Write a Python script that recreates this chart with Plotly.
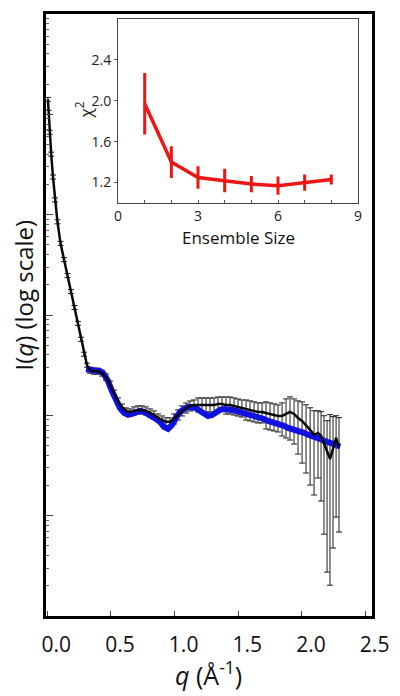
import plotly.graph_objects as go

# ---------------- data ----------------
# Experimental SAXS profile (black), q in 1/Angstrom, intensity as log10(I)
q_exp = [0.005, 0.010, 0.019, 0.031, 0.045, 0.060, 0.080, 0.104, 0.131, 0.159,
         0.186, 0.214, 0.241, 0.265, 0.288, 0.312, 0.335, 0.367, 0.398, 0.430,
         0.461, 0.493, 0.524, 0.555, 0.587, 0.618, 0.650, 0.681, 0.713, 0.744,
         0.775, 0.807, 0.838, 0.870, 0.901, 0.932, 0.964, 0.995, 1.027, 1.058,
         1.090, 1.121, 1.152, 1.184, 1.215, 1.247, 1.278, 1.310, 1.341, 1.372,
         1.404, 1.435, 1.467, 1.498, 1.529, 1.561, 1.592, 1.624, 1.655, 1.687,
         1.718, 1.749, 1.781, 1.812, 1.844, 1.875, 1.906, 1.938, 1.969, 2.001,
         2.032, 2.064, 2.095, 2.126, 2.150, 2.173, 2.197, 2.220, 2.244, 2.268,
         2.291]
logI_exp = [5.149, 5.020, 4.821, 4.603, 4.375, 4.147, 3.929, 3.714, 3.552, 3.393,
            3.234, 3.075, 2.917, 2.758, 2.609, 2.500, 2.450, 2.440, 2.440, 2.421,
            2.381, 2.312, 2.222, 2.143, 2.083, 2.044, 2.034, 2.044, 2.054, 2.054,
            2.044, 2.024, 2.004, 1.974, 1.954, 1.935, 1.935, 1.964, 2.004, 2.044,
            2.073, 2.093, 2.103, 2.103, 2.103, 2.103, 2.103, 2.103, 2.113, 2.113,
            2.103, 2.103, 2.093, 2.083, 2.073, 2.063, 2.054, 2.044, 2.034, 2.034,
            2.024, 2.014, 2.004, 1.994, 1.994, 2.014, 2.034, 2.014, 1.974, 1.944,
            1.905, 1.855, 1.806, 1.825, 1.796, 1.716, 1.627, 1.567, 1.667, 1.776,
            1.677]
# error bar extents in decades (upper / lower)
err_up_dec = [0.02] * 16 + [0.03] * 11 + [0.04] * 10 + [0.05] * 6 + [0.07] * 7 + \
             [0.08] * 5 + [0.09] * 5 + [0.11] * 4 + \
             [0.13, 0.15, 0.15, 0.15, 0.17, 0.19, 0.20, 0.22, 0.24, 0.22, 0.24,
              0.28, 0.32, 0.44, 0.32, 0.22, 0.30]
err_dn_dec = [0.02] * 16 + [0.03] * 11 + [0.04] * 10 + [0.05] * 6 + [0.07] * 7 + \
             [0.09] * 5 + [0.11] * 5 + [0.16] * 4 + \
             [0.20, 0.24, 0.28, 0.30, 0.36, 0.42, 0.48, 0.55, 0.60, 0.45, 0.65,
              0.90, 1.19, 1.26, 0.99, 0.79, 0.84]

# Ensemble fit (blue)
q_fit = [0.304, 0.335, 0.375, 0.414, 0.445, 0.477, 0.508, 0.540, 0.571, 0.603,
         0.634, 0.665, 0.697, 0.728, 0.760, 0.791, 0.822, 0.854, 0.885, 0.917,
         0.948, 0.980, 1.011, 1.042, 1.074, 1.105, 1.137, 1.168, 1.200, 1.231,
         1.262, 1.294, 1.325, 1.357, 1.388, 1.419, 1.451, 1.482, 1.514, 1.545,
         1.577, 1.608, 1.639, 1.671, 1.702, 1.734, 1.765, 1.797, 1.828, 1.859,
         1.891, 1.922, 1.954, 1.985, 2.017, 2.048, 2.079, 2.111, 2.142, 2.174,
         2.205, 2.236, 2.268, 2.299]
logI_fit = [2.460, 2.450, 2.440, 2.440, 2.411, 2.341, 2.242, 2.153, 2.073, 2.024,
            2.004, 2.014, 2.034, 2.044, 2.034, 2.014, 1.994, 1.964, 1.935, 1.885,
            1.865, 1.905, 1.974, 2.034, 2.063, 2.083, 2.083, 2.073, 2.044, 2.014,
            1.994, 2.004, 2.034, 2.054, 2.063, 2.063, 2.054, 2.044, 2.034, 2.024,
            2.014, 1.994, 1.984, 1.974, 1.964, 1.944, 1.935, 1.915, 1.905, 1.895,
            1.875, 1.865, 1.845, 1.835, 1.825, 1.806, 1.796, 1.776, 1.766, 1.746,
            1.736, 1.716, 1.706, 1.687]

# Inset: chi^2 vs ensemble size
ens_size = [1, 2, 3, 4, 5, 6, 7, 8]
chi2 = [1.97, 1.40, 1.25, 1.22, 1.185, 1.17, 1.20, 1.23]
chi2_err = [0.30, 0.155, 0.11, 0.115, 0.08, 0.09, 0.08, 0.05]

x_tickvals = [0.0, 0.5, 1.0, 1.5, 2.0, 2.5]
x_ticktext = ["0.0", "0.5", "1.0", "1.5", "2.0", "2.5"]
inset_x_tickvals = [0, 3, 6, 9]
inset_y_tickvals = [1.2, 1.6, 2.0, 2.4]
inset_y_ticktext = ["1.2", "1.6", "2.0", "2.4"]

# ---------------- build ----------------
I_exp = [10 ** v for v in logI_exp]
I_fit = [10 ** v for v in logI_fit]
err_plus = [I * (10 ** u - 1) for I, u in zip(I_exp, err_up_dec)]
err_minus = [I * (1 - 10 ** (-d)) for I, d in zip(I_exp, err_dn_dec)]

FONT = "Open Sans"
fig = go.Figure()

# error bars of experimental data
fig.add_trace(go.Scatter(
    x=q_exp, y=I_exp, mode="markers", marker=dict(size=1, color="#222"),
    error_y=dict(type="data", symmetric=False, array=err_plus, arrayminus=err_minus,
                 color="#1e1e1e", thickness=1, width=3),
    xaxis="x", yaxis="y", showlegend=False, hoverinfo="skip"))
# fit
fig.add_trace(go.Scatter(
    x=q_fit, y=I_fit, mode="lines", line=dict(color="#1212e0", width=6),
    xaxis="x", yaxis="y", showlegend=False))
# experimental line
fig.add_trace(go.Scatter(
    x=q_exp, y=I_exp, mode="lines", line=dict(color="#0a0a0a", width=2.5),
    xaxis="x", yaxis="y", showlegend=False))

# inset
fig.add_trace(go.Scatter(
    x=ens_size, y=chi2, mode="lines", line=dict(color="#ee1515", width=3.5),
    error_y=dict(type="data", array=chi2_err, color="#ee1515", thickness=3, width=0),
    xaxis="x2", yaxis="y2", showlegend=False))

# page body has an 8px default margin, margins compensate for it
fig.update_layout(
    width=400, height=696,
    margin=dict(l=38, r=36, t=3, b=88),
    paper_bgcolor="white", plot_bgcolor="white",
    font=dict(family=FONT, color="#111"),
    xaxis=dict(
        domain=[0, 1], range=[-0.01, 2.55], tickvals=x_tickvals, ticktext=x_ticktext,
        ticks="inside", ticklen=5, tickwidth=1, tickcolor="#444",
        tickfont=dict(size=21, family=FONT, color="#111"),
        ticklabelshift=9, ticklabelstandoff=8,
        showline=True, linewidth=3, linecolor="black", mirror=True,
        showgrid=False, zeroline=False),
    yaxis=dict(
        domain=[0, 1], type="log", range=[0, 6], showticklabels=False,
        ticks="inside", ticklen=7, tickwidth=1, tickcolor="#444", dtick=1,
        minor=dict(ticks="inside", ticklen=3, dtick="D1", tickcolor="#666", tickwidth=1),
        showline=True, linewidth=3, linecolor="black", mirror=True,
        showgrid=False, zeroline=False),
    xaxis2=dict(
        domain=[0.221, 0.957], anchor="y2", range=[0, 9], tickvals=inset_x_tickvals,
        ticks="inside", ticklen=3, tickcolor="#555",
        minor=dict(ticks="inside", ticklen=3, dtick=1, tickcolor="#555"),
        tickfont=dict(size=14, family=FONT, color="#222"),
        showline=True, linewidth=1, linecolor="#444", mirror=True,
        showgrid=False, zeroline=False),
    yaxis2=dict(
        domain=[0.686, 0.992], anchor="x2", range=[1.0, 2.8], tickvals=inset_y_tickvals,
        ticktext=inset_y_ticktext,
        ticks="outside", ticklen=3, tickcolor="#555",
        tickfont=dict(size=14, family=FONT, color="#222"),
        showline=True, linewidth=1, linecolor="#444", mirror=True,
        showgrid=False, zeroline=False),
    annotations=[
        dict(text="I(<i>q</i>) (log scale)", xref="paper", yref="paper",
             x=-0.0675, y=0.534, textangle=-90, showarrow=False,
             xanchor="center", yanchor="middle",
             font=dict(size=24, family=FONT, color="#111")),
        dict(text="<i>q</i> (Å<sup>-1</sup>)", xref="paper", yref="paper",
             x=0.497, y=-0.096, showarrow=False, xanchor="center", yanchor="middle",
             font=dict(size=25, family=FONT, color="#111")),
        dict(text="χ<sup>2</sup>", xref="paper", yref="paper",
             x=0.1166, y=0.8397, textangle=-90, showarrow=False,
             xanchor="center", yanchor="middle",
             font=dict(size=17, family=FONT, color="#222")),
        dict(text="Ensemble Size", xref="paper", yref="paper",
             x=0.589, y=0.628, showarrow=False, xanchor="center", yanchor="middle",
             font=dict(size=17, family=FONT, color="#111")),
    ],
)

fig.write_html("out.html")
